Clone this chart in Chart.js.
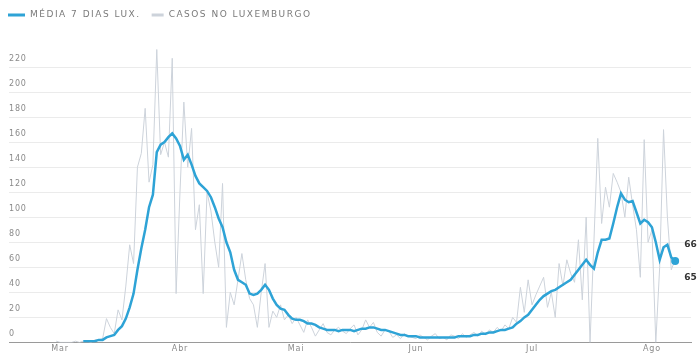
<!DOCTYPE html>
<html>
<head>
<meta charset="utf-8">
<script src="https://cdn.jsdelivr.net/npm/chart.js@4"></script>
<style>
  html, body { margin: 0; padding: 0; background: #ffffff; }
  #wrap { width: 700px; height: 356px; }
</style>
</head>
<body>
<div id="wrap"><canvas id="c" width="700" height="356"></canvas></div>
<script>
// Daily new cases in Luxembourg, one value per day starting 29 Feb 2020
const casosStart = '2020-02-29';
const casosFeb = [1];
const casosMar = [0,0,0,0,1,0,1,1,0,2, 2,3,19,12,7,26,18,45,78,63, 140,151,187,128,142,234,150,160,148,227, 39];
const casosAbr = [120,192,140,171,90,110,39,120,105,80, 60,127,12,40,30,50,71,50,35,30, 12,40,63,12,25,20,30,18,22,15];
const casosMai = [20,14,8,18,12,5,10,15,8,6, 10,12,9,7,11,14,6,10,18,12, 16,8,5,10,9,4,6,3,7,5, 4];
const casosJun = [3,6,4,2,5,7,3,4,2,6, 5,3,7,4,6,8,5,9,6,10, 8,12,9,14,11,20,16,44,24,50];
const casosJul = [30,38,45,52,28,40,20,63,45,66, 55,48,82,34,100,0,80,163,95,124, 108,135,128,120,100,132,110,90,52,162, 80];
const casosAgo = [90,0,60,170,100,58,66];

// 7-day rolling average, one value per day starting 7 Mar 2020
const mediaStart = '2020-03-07';
const mediaMar = [1,1,1,1,2,2,4,5,6,10,13,19,28,39,58,75,90,108,118,152,158,160,164,167,163];
const mediaAbr = [157,146,150,142,133,127,124,121,116,108, 99,92,80,72,58,50,48,46,39,38, 39,42,46,42,35,30,27,26,22,19];
const mediaMai = [18,18,17,15,15,14,12,11,10,10, 10,9,10,10,10,9,10,11,11,12, 12,11,10,10,9,8,7,6,6,5, 5];
const mediaJun = [5,4,4,4,4,4,4,4,4,4, 4,5,5,5,5,6,6,7,7,8, 8,9,10,10,11,12,15,17,20,22];
const mediaJul = [26,30,34,37,39,41,42,44,46,48, 50,54,58,62,66,62,59,72,82,82, 83,95,108,119,114,112,113,104,95,98, 96];
const mediaAgo = [92,80,66,76,78,68,65];

// Month labels shown on the x axis
const monthLabels = ['Mar','Abr','Mai','Jun','Jul','Ago'];
const monthFirstDays = ['2020-03-01','2020-04-01','2020-05-01','2020-06-01','2020-07-01','2020-08-01'];

// Series names
const labelMedia = 'MÉDIA 7 DIAS LUX.';
const labelCasos = 'CASOS NO LUXEMBURGO';

// Day offsets are counted from 1 March 2020
const DAY = 86400000;
const origin = Date.UTC(2020, 2, 1);
function dayOf(iso) {
  const [y, m, d] = iso.split('-').map(Number);
  return (Date.UTC(y, m - 1, d) - origin) / DAY;
}
function toPoints(startIso, values) {
  const s = dayOf(startIso);
  return values.map((v, i) => ({ x: s + i, y: v }));
}

const casosPts = toPoints(casosStart, [].concat(casosFeb, casosMar, casosAbr, casosMai, casosJun, casosJul, casosAgo));
const mediaPts = toPoints(mediaStart, [].concat(mediaMar, mediaAbr, mediaMai, mediaJun, mediaJul, mediaAgo));
const monthTicks = monthFirstDays.map(dayOf);

const BLUE = '#2ea3d6';
const GREY = '#cdd3db';
const FONT = '"DejaVu Sans", Verdana, sans-serif';
const SPACING = '0.8px';

// Slightly tracked-out lettering for every text on the canvas
const tracking = {
  id: 'tracking',
  beforeInit(chart) { chart.ctx.letterSpacing = SPACING; },
  beforeDraw(chart) { chart.ctx.letterSpacing = SPACING; }
};

// Legend row: a short coloured bar followed by the series name
const topLegend = {
  id: 'topLegend',
  afterDraw(chart) {
    const ctx = chart.ctx;
    const items = [
      { text: labelMedia, color: BLUE, bar: 17 },
      { text: labelCasos, color: GREY, bar: 12 }
    ];
    ctx.save();
    ctx.letterSpacing = '1.5px';
    ctx.font = '9px ' + FONT;
    ctx.textBaseline = 'middle';
    ctx.textAlign = 'left';
    let x = 8;
    const y = 15;
    items.forEach(it => {
      ctx.fillStyle = it.color;
      ctx.fillRect(x, y - 1.5, it.bar, 3);
      x += it.bar + 5;
      ctx.fillStyle = '#7a7a7a';
      ctx.fillText(it.text, x, y);
      x += ctx.measureText(it.text).width + 11;
    });
    ctx.restore();
  }
};

// Writes the latest value of each series beside the line end
const endLabels = {
  id: 'endLabels',
  afterDatasetsDraw(chart) {
    const { ctx, scales: { x, y } } = chart;
    const lc = casosPts[casosPts.length - 1];
    const lm = mediaPts[mediaPts.length - 1];
    ctx.save();
    ctx.letterSpacing = '0px';
    ctx.font = 'bold 9px ' + FONT;
    ctx.fillStyle = '#333333';
    ctx.textAlign = 'left';
    ctx.textBaseline = 'middle';
    ctx.fillText(String(lc.y), x.getPixelForValue(lc.x) + 9, y.getPixelForValue(lc.y) - 15);
    ctx.fillText(String(lm.y), x.getPixelForValue(lm.x) + 9, y.getPixelForValue(lm.y) + 17);
    ctx.restore();
  }
};

new Chart(document.getElementById('c'), {
  type: 'line',
  data: {
    datasets: [
      {
        label: labelMedia,
        data: mediaPts,
        borderColor: BLUE,
        backgroundColor: BLUE,
        borderWidth: 2.5,
        tension: 0,
        order: 0,
        pointRadius: (c) => c.dataIndex === mediaPts.length - 1 ? 4 : 0,
        pointBackgroundColor: BLUE,
        pointBorderWidth: 0,
        pointHoverRadius: 0
      },
      {
        label: labelCasos,
        data: casosPts,
        borderColor: GREY,
        backgroundColor: GREY,
        borderWidth: 1,
        tension: 0,
        order: 1,
        pointRadius: 0,
        pointHoverRadius: 0
      }
    ]
  },
  options: {
    responsive: false,
    animation: false,
    events: [],
    layout: { padding: { left: 9, right: 9, top: 47, bottom: 0 } },
    plugins: {
      tooltip: { enabled: false },
      legend: { display: false }
    },
    scales: {
      x: {
        type: 'linear',
        min: -13.2,
        max: 163.1,
        grid: { display: false, drawTicks: false },
        border: { display: true, color: '#9a9a9a', width: 1 },
        afterBuildTicks(axis) { axis.ticks = monthTicks.map(v => ({ value: v })); },
        ticks: {
          autoSkip: false,
          maxRotation: 0,
          padding: 2,
          color: '#8a8a8a',
          font: { family: FONT, size: 8 },
          callback(value) {
            const i = monthTicks.indexOf(value);
            return i >= 0 ? monthLabels[i] : '';
          }
        }
      },
      y: {
        min: 0,
        max: 236,
        grid: { color: '#ebebeb', lineWidth: 1, drawTicks: false },
        border: { display: false },
        afterBuildTicks(axis) { axis.ticks = axis.ticks.filter(t => t.value % 20 === 0 && t.value <= 220); },
        ticks: {
          stepSize: 20,
          mirror: true,
          labelOffset: -8,
          padding: 0,
          color: '#8a8a8a',
          font: { family: FONT, size: 8 }
        }
      }
    }
  },
  plugins: [tracking, topLegend, endLabels]
});
</script>
</body>
</html>
